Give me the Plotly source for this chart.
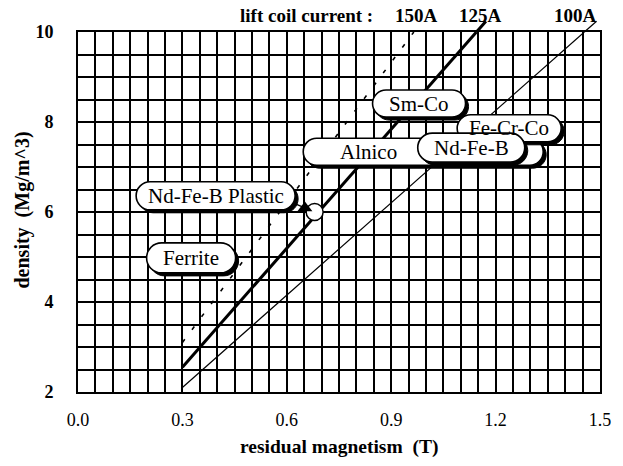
import plotly.graph_objects as go

# ---- data ----
x_ticks = [0.0, 0.3, 0.6, 0.9, 1.2, 1.5]
y_ticks = [2, 4, 6, 8, 10]

currents = ["150A", "125A", "100A"]
line_x = {"150A": [0.30, 0.965], "125A": [0.30, 1.145], "100A": [0.30, 1.455]}
line_y = {"150A": [3.10, 10.0], "125A": [2.55, 10.0], "100A": [2.10, 10.0]}

materials = ["Alnico", "Fe-Cr-Co", "Sm-Co", "Nd-Fe-B", "Nd-Fe-B Plastic", "Ferrite"]
label_x = [0.992, 1.239, 0.980, 1.130, 0.3955, 0.325]
label_y = [7.34, 7.86, 8.41, 7.43, 6.36, 4.98]
label_w = [240, 104, 93, 107, 159, 89]
label_h = [27, 27, 27, 29, 28, 30]
text_x = [0.834, 1.239, 0.980, 1.130, 0.3955, 0.325]

tri_x, tri_y = [0.652], [6.09]
circ_x, circ_y = [0.680], [6.00]

FONT = "Liberation Serif"

fig = go.Figure()

styles = {
    "150A": dict(color="black", width=1.6, dash="4px,12px"),
    "125A": dict(color="black", width=3),
    "100A": dict(color="black", width=1.2),
}
for c in currents:
    fig.add_trace(go.Scatter(x=line_x[c], y=line_y[c], mode="lines",
                             line=styles[c], showlegend=False, hoverinfo="skip"))

fig.add_trace(go.Scatter(x=circ_x, y=circ_y, mode="markers", showlegend=False,
                         marker=dict(symbol="circle", size=17, color="white",
                                     line=dict(color="black", width=1.5))))
fig.add_trace(go.Scatter(x=tri_x, y=tri_y, mode="markers", showlegend=False,
                         marker=dict(symbol="triangle-up", size=13, color="black")))


def pill(w, h, dx=0, dy=0):
    r = h / 2.0
    k = 0.5523 * r
    x0, x1 = -w / 2 + dx, w / 2 + dx
    y0, y1 = -h / 2 + dy, h / 2 + dy
    p = (f"M {x0 + r},{y0} L {x1 - r},{y0} "
         f"C {x1 - r + k},{y0} {x1},{y0 + r - k} {x1},{y0 + r} "
         f"C {x1},{y0 + r + k} {x1 - r + k},{y1} {x1 - r},{y1} "
         f"L {x0 + r},{y1} "
         f"C {x0 + r - k},{y1} {x0},{y0 + r + k} {x0},{y0 + r} "
         f"C {x0},{y0 + r - k} {x0 + r - k},{y0} {x0 + r},{y0} Z")
    return p


shapes = []
# short extensions of the 125A / 100A lines up to their labels (outside the plot area)
y_top_paper = 1.03
for c in ["125A", "100A"]:
    xs, ys = line_x[c], line_y[c]
    slope = (ys[1] - ys[0]) / (xs[1] - xs[0])
    y_ext = 2 + 8 * y_top_paper
    x_ext = xs[1] + (y_ext - ys[1]) / slope
    shapes.append(dict(type="line", xref="x", yref="paper", x0=xs[1], y0=1.0,
                       x1=x_ext, y1=y_top_paper,
                       line=dict(color="black", width=styles[c]["width"]), layer="above"))

# leader line from Nd-Fe-B Plastic label to the triangle marker
shapes.append(dict(type="line", xref="x", yref="y",
                   x0=label_x[4] + 0.205, y0=label_y[4] - 0.1,
                   x1=tri_x[0], y1=tri_y[0],
                   line=dict(color="black", width=1.3), layer="above"))
annotations = []
for m, cx, cy, w, h, tx in zip(materials, label_x, label_y, label_w, label_h, text_x):
    shapes.append(dict(type="path", xref="x", yref="y", xsizemode="pixel", ysizemode="pixel",
                       xanchor=cx, yanchor=cy, path=pill(w, h, 3, -3),
                       fillcolor="black", line=dict(color="black", width=1), layer="above"))
    shapes.append(dict(type="path", xref="x", yref="y", xsizemode="pixel", ysizemode="pixel",
                       xanchor=cx, yanchor=cy, path=pill(w, h),
                       fillcolor="white", line=dict(color="black", width=1.6), layer="above"))
    annotations.append(dict(x=tx, y=cy, xref="x", yref="y", text=m, showarrow=False,
                            font=dict(family=FONT, size=21, color="black"),
                            xanchor="center", yanchor="middle"))

# top labels
annotations.append(dict(x=0.437, y=1.047, xref="paper", yref="paper",
                        text="<b>lift coil current :</b>", showarrow=False,
                        font=dict(family=FONT, size=19, color="black"),
                        xanchor="center", yanchor="middle"))
cur_px = {"150A": 0.973, "125A": 1.157, "100A": 1.429}
for c in currents:
    annotations.append(dict(x=cur_px[c], y=1.047, xref="x", yref="paper",
                            text=f"<b>{c}</b>", showarrow=False,
                            font=dict(family=FONT, size=19, color="black"),
                            xanchor="center", yanchor="middle"))

# axis titles
annotations.append(dict(x=0.5, y=-0.153, xref="paper", yref="paper",
                        text="<b>residual magnetism&nbsp; (T)</b>", showarrow=False,
                        font=dict(family=FONT, size=19.5, color="black"),
                        xanchor="center", yanchor="middle"))
annotations.append(dict(x=-0.106, y=0.506, xref="paper", yref="paper",
                        text="<b>density&nbsp; (Mg/m^3)</b>", showarrow=False, textangle=-90,
                        font=dict(family=FONT, size=20, color="black"),
                        xanchor="center", yanchor="middle"))

fig.update_layout(
    width=623, height=466,
    margin=dict(l=78, r=16, t=32, b=74),
    paper_bgcolor="white", plot_bgcolor="white",
    shapes=shapes, annotations=annotations,
    showlegend=False,
)
fig.update_xaxes(range=[0, 1.5], tickvals=x_ticks, ticktext=[f"{v:.1f}" for v in x_ticks],
                 showgrid=True, gridcolor="black", gridwidth=1.6,
                 minor=dict(tick0=0, dtick=0.05, showgrid=True, gridcolor="black", gridwidth=1.6),
                 showline=True, linecolor="black", linewidth=2, mirror=True,
                 zeroline=False, ticks="", ticklabelstandoff=10,
                 tickfont=dict(family=FONT, size=18, color="black"))
fig.update_yaxes(range=[2, 10], tickvals=y_ticks,
                 ticktext=[f"<b>{v}</b>" for v in y_ticks],
                 showgrid=True, gridcolor="black", gridwidth=1.6,
                 minor=dict(tick0=2, dtick=0.5, showgrid=True, gridcolor="black", gridwidth=1.6),
                 showline=True, linecolor="black", linewidth=2, mirror=True,
                 zeroline=False, ticks="", ticklabelstandoff=19,
                 tickfont=dict(family=FONT, size=18, color="black"))

fig.write_html("out.html")
